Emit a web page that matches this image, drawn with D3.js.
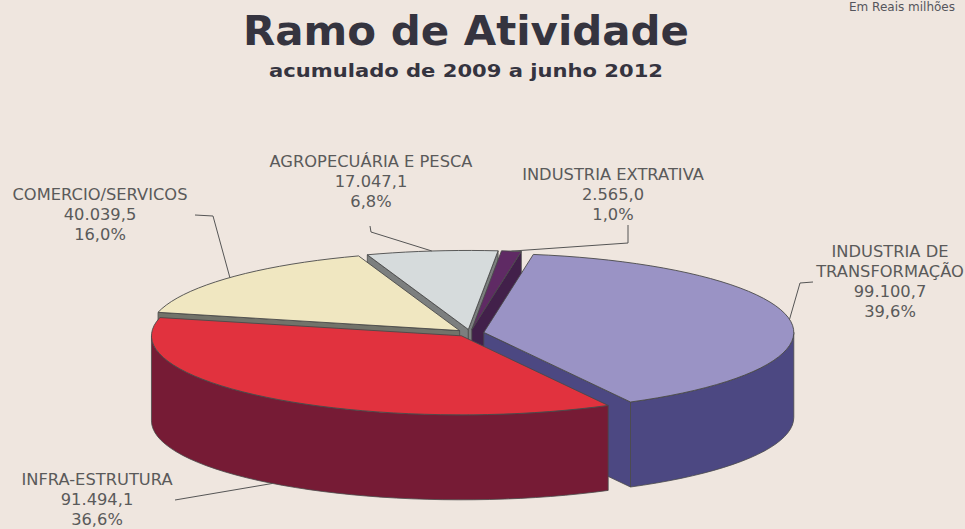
<!DOCTYPE html>
<html>
<head>
<meta charset="utf-8">
<script src="https://cdn.jsdelivr.net/npm/d3@7"></script>
<style>
  html, body { margin: 0; padding: 0; background: #efe6df; }
  svg { display: block; }
</style>
</head>
<body>
<svg id="chart" width="965" height="529"></svg>
<script>
// ---------- DATA ----------
const categories = ["INDUSTRIA EXTRATIVA", "INDUSTRIA DE TRANSFORMAÇÃO", "INFRA-ESTRUTURA", "COMERCIO/SERVICOS", "AGROPECUÁRIA E PESCA"];
const values = [2565.0, 99100.7, 91494.1, 40039.5, 17047.1];
const titleText = "Ramo de Atividade";
const subtitleText = "acumulado de 2009 a junho 2012";
const unitText = "Em Reais milhões";

// ---------- STYLE / LAYOUT ----------
const topColors  = ["#5f2a64", "#9a93c5", "#e1323e", "#f0e7c1", "#d6dbdc"];
const sideColors = ["#42204a", "#4c4882", "#761b35", "#72736a", "#7c7f7f"];
const labelLines = [["INDUSTRIA EXTRATIVA"], ["INDUSTRIA DE", "TRANSFORMAÇÃO"], ["INFRA-ESTRUTURA"], ["COMERCIO/SERVICOS"], ["AGROPECUÁRIA E PESCA"]];
const labelPos = [
  {x: 613, y: 180, lead: [[628, 225], [628, 243]], anchor: "top"},
  {x: 890, y: 257, lead: [[813, 282], [800, 283]], anchor: "top"},
  {x: 97,  y: 485, lead: [[175, 500]], anchor: "bottom"},
  {x: 100, y: 200, lead: [[195, 215], [213, 216]], anchor: "top"},
  {x: 371, y: 167, lead: [[370, 226], [371, 232]], anchor: "top"}
];

const cx = 470, cy = 333, rx = 310, ry = 79, depth = 85, explode = 14;
const startDeg = 5.5;

const svg = d3.select("#chart");
const loc = d3.formatLocale({decimal: ",", thousands: ".", grouping: [3], currency: ["R$", ""]});
const fmtVal = loc.format(",.1f");
const fmtPct = loc.format(".1%");
const total = d3.sum(values);

// ---------- TEXTS ----------
svg.append("text").attr("x", 955).attr("y", 11).attr("text-anchor", "end")
  .attr("font-family", "DejaVu Sans, Verdana, sans-serif")
  .attr("font-size", 12).attr("fill", "#55555c").text(unitText);

svg.append("text").attr("x", 466).attr("y", 45).attr("text-anchor", "middle")
  .attr("font-family", "DejaVu Sans, Verdana, sans-serif").attr("font-weight", "bold")
  .attr("font-size", 41).attr("fill", "#35343f")
  .attr("textLength", 446).attr("lengthAdjust", "spacingAndGlyphs").text(titleText);

svg.append("text").attr("x", 466).attr("y", 77).attr("text-anchor", "middle")
  .attr("font-family", "DejaVu Sans, Verdana, sans-serif").attr("font-weight", "bold")
  .attr("font-size", 18).attr("fill", "#35343f")
  .attr("textLength", 394).attr("lengthAdjust", "spacingAndGlyphs").text(subtitleText);

// ---------- PIE ----------
const rad = d => d * Math.PI / 180;
const pie = d3.pie().sort(null).startAngle(rad(startDeg)).endAngle(rad(startDeg + 360));
const arcs = pie(values).map((a, i) => {
  const mid = (a.startAngle + a.endAngle) / 2;
  return {i, a0: a.startAngle, a1: a.endAngle, mid,
    dx: explode * Math.sin(mid), dy: -explode * Math.cos(mid) * (ry / rx)};
});

const P = (s, t, r = 1, z = 0) => [cx + s.dx + rx * r * Math.sin(t), cy + s.dy - ry * r * Math.cos(t) + z];
const line = d3.line();
const N = 120;

function rimPts(s, t0, t1, z) {
  const n = Math.max(2, Math.ceil(N * (t1 - t0) / (2 * Math.PI)) + 2);
  return d3.range(n).map(k => P(s, t0 + (t1 - t0) * k / (n - 1), 1, z));
}

const order = arcs.slice().sort((p, q) => (-Math.cos(p.mid)) - (-Math.cos(q.mid)));
const g = svg.append("g");
const strokeC = "#4a4a4a";

order.forEach(s => {
  const sg = g.append("g");
  const walls = [];
  if (Math.sin(s.a0) < 0) walls.push(s.a0);
  if (Math.sin(s.a1) > 0) walls.push(s.a1);
  walls.forEach(t => {
    const c = P(s, 0, 0, 0), r0 = P(s, t, 1, 0), r1 = P(s, t, 1, depth), c1 = P(s, 0, 0, depth);
    sg.append("path").attr("d", line([c, r0, r1, c1]) + "Z")
      .attr("fill", sideColors[s.i]).attr("stroke", strokeC).attr("stroke-width", 0.8).attr("stroke-linejoin", "round");
  });
  [0, 2 * Math.PI].forEach(base => {
    const lo = Math.max(s.a0, base + Math.PI / 2), hi = Math.min(s.a1, base + 3 * Math.PI / 2);
    if (hi > lo) {
      const topP = rimPts(s, lo, hi, 0);
      const botP = rimPts(s, lo, hi, depth).reverse();
      sg.append("path").attr("d", line(topP.concat(botP)) + "Z")
        .attr("fill", sideColors[s.i]).attr("stroke", strokeC).attr("stroke-width", 0.8).attr("stroke-linejoin", "round");
    }
  });
  const topFace = [P(s, 0, 0, 0)].concat(rimPts(s, s.a0, s.a1, 0));
  sg.append("path").attr("d", line(topFace) + "Z")
    .attr("fill", topColors[s.i]).attr("stroke", strokeC).attr("stroke-width", 0.9).attr("stroke-linejoin", "round");
});

// ---------- LABELS + LEADERS ----------
arcs.forEach(s => {
  const lp = labelPos[s.i];
  const end = lp.anchor === "top" ? P(s, s.mid, 1, 0) : P(s, s.mid, 1, depth);
  svg.append("path").attr("d", line(lp.lead.concat([end])))
    .attr("fill", "none").attr("stroke", "#555").attr("stroke-width", 1);
  const lines = labelLines[s.i].concat([fmtVal(values[s.i]), fmtPct(values[s.i] / total)]);
  const t = svg.append("text").attr("text-anchor", "middle")
    .attr("font-family", "DejaVu Sans, Verdana, sans-serif").attr("font-size", 16.3).attr("fill", "#5a5a5a");
  lines.forEach((ln, k) => {
    t.append("tspan").attr("x", lp.x).attr("y", lp.y + k * 20).text(ln);
  });
});
</script>
</body>
</html>
